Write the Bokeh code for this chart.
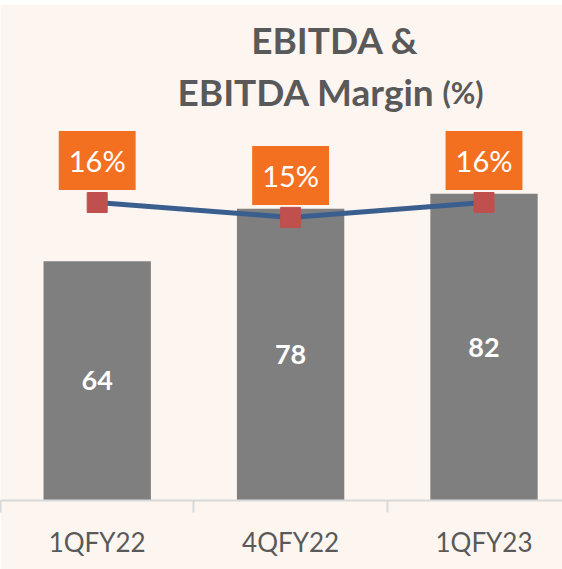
from bokeh.plotting import figure
from bokeh.models import Range1d, FixedTicker, ColumnDataSource, Label
from bokeh.core.properties import value
from bokeh.embed import file_html
from bokeh.resources import INLINE

# ---- data ----
categories = ["1QFY22", "4QFY22", "1QFY23"]
ebitda = [64, 78, 82]
margin = [16.0, 15.2, 16.0]
margin_labels = ["16%", "15%", "16%"]
ebitda_labels = ["64", "78", "82"]
title_line1 = "EBITDA &"
title_line2 = "EBITDA Margin"
title_unit = "(%)"

# ---- styling / layout ----
BG = "#FDF5F0"
BAR = "#7F7F7F"
LINE = "#3A5F8E"
MARK = "#C0504D"
BOX = "#F37021"
TXT = "#595959"
FONT = value("Lato")

W, H = 562, 565
FRAME_H = 496
PX_CAT = 193.4          # pixels per category
PX_UNIT = 3.74          # pixels per EBITDA unit
PX_MUNIT = 18.625       # pixels per margin unit

def dx(px):
    return px / PX_CAT

def dy(py):
    return (FRAME_H - py) / PX_UNIT

xs = [i + 0.5 for i in range(len(categories))]
bounds = [float(i) for i in range(len(categories) + 1)]
mid = [v / 2 for v in ebitda]

src = ColumnDataSource(dict(x=xs, ebitda=ebitda, mid=mid, margin=margin,
                            mlabel=margin_labels, elabel=ebitda_labels))

p = figure(width=W, height=H, output_backend="svg", toolbar_location=None,
           x_range=Range1d(0, W / PX_CAT), y_range=Range1d(0, FRAME_H / PX_UNIT),
           min_border_left=0, min_border_right=0, min_border_top=0,
           min_border_bottom=H - FRAME_H,
           background_fill_color=BG, border_fill_color=BG, outline_line_color=None,
           y_axis_location=None,
           styles={"margin-top": "4px"})
p.extra_y_ranges = {"m": Range1d(0, FRAME_H / PX_MUNIT)}
p.xgrid.grid_line_color = None
p.ygrid.grid_line_color = None

ax = p.xaxis[0]
ax.ticker = FixedTicker(ticks=xs, minor_ticks=bounds)
ax.major_label_overrides = {x: c for x, c in zip(xs, categories)}
ax.axis_line_color = "#D9D9D9"
ax.axis_line_width = 2
ax.major_tick_line_color = None
ax.major_tick_out = 0
ax.major_tick_in = 0
ax.minor_tick_line_color = "#D9D9D9"
ax.minor_tick_line_width = 2
ax.minor_tick_out = 12
ax.minor_tick_in = 0
ax.major_label_text_font = "Lato"
ax.major_label_text_font_size = "26px"
ax.major_label_text_color = TXT
ax.major_label_standoff = 13

p.vbar(x="x", top="ebitda", width=0.555, fill_color=BAR, line_color=None, source=src)
p.line(x="x", y="margin", y_range_name="m", line_color=LINE, line_width=5, source=src)
p.scatter(x="x", y="margin", y_range_name="m", marker="square", size=20,
          fill_color=MARK, line_color=MARK, source=src)

p.text(x="x", y="mid", text="elabel", source=src, text_font=FONT, text_font_style="bold",
       text_font_size="27px", text_color="white", text_align="center", text_baseline="middle")

p.text(x="x", y="margin", text="mlabel", source=src, y_range_name="m", y_offset=-42,
       text_font=FONT, text_font_size="29px", text_color="white",
       text_align="center", text_baseline="middle",
       background_fill_color=BOX, padding=dict(left=10, right=10, top=12, bottom=12))

p.add_layout(Label(x=dx(334.5), y=(FRAME_H - (39 - 4)) / PX_UNIT, text=title_line1,
                   text_font="Lato", text_font_style="bold", text_font_size="37px",
                   text_color=TXT, text_align="center", text_baseline="alphabetic"))
p.add_layout(Label(x=dx(177), y=(FRAME_H - (91 - 4)) / PX_UNIT, text=title_line2,
                   text_font="Lato", text_font_style="bold", text_font_size="37px",
                   text_color=TXT, text_align="left", text_baseline="alphabetic"))
p.add_layout(Label(x=dx(442), y=(FRAME_H - (91 - 4)) / PX_UNIT, text=title_unit,
                   text_font="Lato", text_font_style="bold", text_font_size="30px",
                   text_color=TXT, text_align="left", text_baseline="alphabetic"))

open("out.html", "w").write(file_html(p, INLINE))
